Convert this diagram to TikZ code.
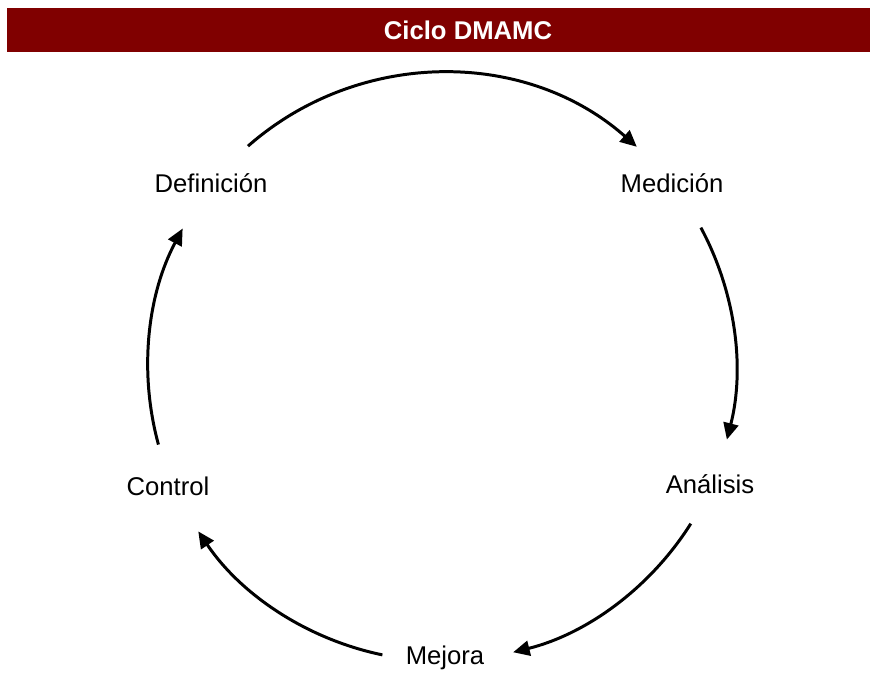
\documentclass[tikz,border=0pt]{standalone}
\usepackage{fontspec}
\setmainfont{Liberation Sans}
\usepackage{tikz}
\usetikzlibrary{arrows.meta}
\definecolor{barred}{RGB}{128,0,0}
\tikzset{
	step label/.style={font=\fontsize{14.6}{17}\selectfont},
	flow/.style={line width=1.7pt,-{Triangle[length=0.33cm,width=0.3cm]}}
}
\begin{document}
\begin{tikzpicture}
		\useasboundingbox (0,0) rectangle (17.44,13.46);
		\fill[barred] (0.14,12.42) rectangle (17.4,13.30);
		\node[text=white,font=\bfseries\fontsize{14.6}{17}\selectfont] (title) at (9.36,12.86) {Ciclo DMAMC};
		\node[step label] (def) at (4.22,9.80) {Definición};
		\node[step label] (med) at (13.44,9.80) {Medición};
		\node[step label] (ana) at (14.20,3.78) {Análisis};
		\node[step label] (mej) at (8.90,0.30) {Mejora};
		\node[step label] (con) at (3.36,3.74) {Control};
		\coordinate (c) at (8.84,6.12);
		\coordinate (a1) at ([shift={(131.3:5.88)}]c);
		\coordinate (a2) at ([shift={(28.3:5.88)}]c);
		\coordinate (a3) at ([shift={(-32.2:5.88)}]c);
		\coordinate (a4) at ([shift={(-101.7:5.88)}]c);
		\coordinate (a5) at ([shift={(-164.7:5.88)}]c);
		\draw[flow] (a1) arc[start angle=131.3, end angle=48.5, radius=5.88];
		\draw[flow] (a2) arc[start angle=28.3, end angle=-14.3, radius=5.88];
		\draw[flow] (a3) arc[start angle=-32.2, end angle=-76, radius=5.88];
		\draw[flow] (a4) arc[start angle=-101.7, end angle=-146, radius=5.88];
		\draw[flow] (a5) arc[start angle=-164.7, end angle=-208.1, radius=5.88];
	% DMAMC cycle
	\end{tikzpicture}
\end{document}
